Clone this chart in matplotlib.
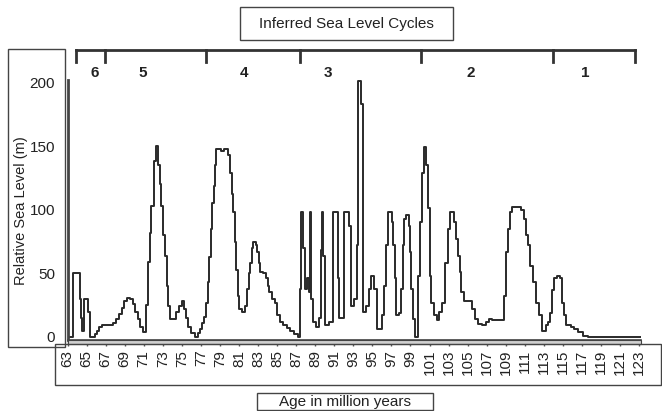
import matplotlib
matplotlib.use('Agg')
import matplotlib.pyplot as plt
import matplotlib.transforms as mtransforms
from matplotlib.patches import Rectangle
from matplotlib.lines import Line2D

########################### data ################################################
age = [63.0, 63.55, 64.3, 64.45, 64.55, 64.75, 65.15, 65.35, 65.9, 66.1, 66.35, 66.6,
       67.8, 68.1, 68.4, 68.7, 68.95, 69.2, 69.6, 69.85, 70.1, 70.4, 70.65, 70.9,
       71.2, 71.4, 71.65, 71.8, 72.1, 72.3, 72.5, 72.7, 72.85, 73.05, 73.2, 73.4,
       73.55, 73.75, 74.4, 74.7, 75.0, 75.2, 75.4, 75.7, 76.0, 76.4, 76.65, 76.9,
       77.1, 77.3, 77.5, 77.7, 77.85, 78.05, 78.2, 78.35, 78.5, 78.6, 79.1, 79.4,
       79.85, 80.05, 80.25, 80.4, 80.55, 80.7, 80.85, 81.05, 81.3, 81.6, 81.8, 82.0,
       82.15, 82.35, 82.5, 82.75, 82.9, 83.1, 83.25, 83.5, 83.8, 84.0, 84.2, 84.5,
       84.8, 85.0, 85.3, 85.6, 86.0, 86.4, 86.8, 87.2, 87.45, 87.55, 87.75, 87.9,
       88.1, 88.35, 88.45, 88.6, 88.8, 89.1, 89.4, 89.6, 89.7, 89.85, 90.05, 90.4,
       90.85, 91.4, 91.55, 92.05, 92.6, 92.8, 93.05, 93.35, 93.5, 93.85, 94.05, 94.3,
       94.6, 94.85, 95.2, 95.45, 96.0, 96.2, 96.4, 96.6, 97.05, 97.2, 97.35, 97.5,
       97.8, 98.0, 98.2, 98.35, 98.5, 98.8, 98.95, 99.1, 99.3, 99.45, 99.8, 100.0,
       100.2, 100.4, 100.65, 100.8, 101.0, 101.2, 101.45, 101.75, 102.0, 102.3, 102.6, 102.9,
       103.2, 103.6, 103.8, 103.95, 104.15, 104.35, 104.6, 105.5, 105.8, 106.1, 106.5, 106.9,
       107.2, 107.6, 108.8, 109.0, 109.2, 109.4, 109.7, 110.6, 110.9, 111.1, 111.3, 111.6,
       111.9, 112.2, 112.5, 112.8, 113.2, 113.4, 113.7, 113.9, 114.1, 114.4, 114.7, 114.9,
       115.1, 115.3, 115.9, 116.2, 116.6, 117.1, 117.6, 123.2]
sea_level = [0, 50, 30, 15, 5, 30, 20, 0, 2, 5, 8, 9,
             11, 14, 18, 23, 28, 31, 30, 26, 20, 14, 8, 4,
             25, 59, 82, 103, 138, 150, 135, 120, 103, 80, 64, 40,
             24, 14, 20, 24, 28, 22, 15, 8, 3, 0, 3, 6,
             11, 16, 27, 43, 63, 85, 105, 119, 135, 148, 146, 148,
             143, 129, 112, 98, 75, 53, 32, 22, 20, 24, 38, 50,
             58, 70, 75, 72, 67, 58, 51, 50, 46, 40, 35, 30,
             27, 17, 12, 9, 7, 5, 2, 0, 38, 98, 70, 38,
             46, 35, 98, 30, 12, 8, 15, 68, 98, 64, 9, 12,
             98, 46, 15, 98, 87, 24, 30, 72, 201, 183, 20, 24,
             38, 48, 38, 6, 17, 40, 72, 98, 90, 72, 46, 17,
             19, 38, 72, 93, 96, 87, 67, 38, 14, 0, 48, 90,
             129, 149, 135, 101, 48, 27, 17, 13, 20, 27, 58, 85,
             98, 90, 77, 64, 51, 35, 28, 22, 14, 10, 9, 12,
             14, 13, 32, 67, 85, 98, 102, 100, 93, 80, 72, 56,
             43, 27, 17, 5, 9, 12, 19, 37, 46, 48, 46, 27,
             17, 9, 8, 6, 4, 1, 0, 0]

x_ticks = list(range(63, 124, 2))
y_ticks = [0, 50, 100, 150, 200]

cycle_bounds = [63.9, 66.9, 77.5, 87.4, 100.1, 114.0, 122.55]
cycle_names = ['6', '5', '4', '3', '2', '1']
cycle_label_x = [65.9, 70.9, 81.5, 90.3, 105.3, 117.3]

########################### style ############################
W, H = 662, 411
line_color = '#2a2a2a'
box_color = '#444444'
plt.rcParams['font.family'] = ['Liberation Sans', 'DejaVu Sans']
plt.rcParams['text.color'] = '#222222'


def fx(px):
    return px / W


def fy(py):
    return 1 - py / H


def box(fig, x0, y0, x1, y1, **kw):
    r = Rectangle((fx(x0), fy(y1)), fx(x1) - fx(x0), fy(y0) - fy(y1),
                  transform=fig.transFigure, fill=kw.pop('fill', False),
                  edgecolor=kw.pop('edgecolor', box_color), lw=kw.pop('lw', 1.0), **kw)
    fig.patches.append(r)


fig = plt.figure(figsize=(W / 100, H / 100), dpi=100)
ax = fig.add_axes([fx(67.5), fy(340), fx(641) - fx(67.5), fy(80) - fy(340)])

ax.step(age, sea_level, where='post', color=line_color, linewidth=1.4)

ax.set_xlim(63, 123.2)
ax.set_ylim(-2.4, 202)
ax.set_xticks(x_ticks)
ax.set_yticks(y_ticks)
ax.tick_params(axis='x', direction='out', length=4, width=1, color='#555555',
               labelsize=11, labelrotation=90, pad=3, labelcolor='#222222')
ax.tick_params(axis='y', length=0, labelsize=11, pad=9, labelcolor='#222222')
for s in ['top', 'right']:
    ax.spines[s].set_visible(False)
ax.spines['left'].set_linewidth(2)
ax.spines['left'].set_color('#444444')
ax.spines['bottom'].set_linewidth(1.2)
ax.spines['bottom'].set_color('#444444')
ax.patch.set_alpha(0)

# grey band under the x axis and boxes round the labels
box(fig, 67.5, 340, 641, 344, fill=True, facecolor='#d0d0d0', lw=0.8)
box(fig, 55, 344, 661, 385)
box(fig, 8, 49, 65, 347)
box(fig, 240, 7, 453, 40)
box(fig, 257, 393, 433, 410)

fig.text(fx(346.5), fy(24), 'Inferred Sea Level Cycles', ha='center', va='center', fontsize=11)
fig.text(fx(345), fy(402), 'Age in million years', ha='center', va='center', fontsize=11)
fig.text(fx(21.5), fy(211), 'Relative Sea Level (m)', ha='center', va='center',
         rotation=90, fontsize=10.5)

# inferred cycle bracket above the plot
trans = mtransforms.blended_transform_factory(ax.transData, fig.transFigure)
fig.lines.append(Line2D([cycle_bounds[0], cycle_bounds[-1]], [fy(50), fy(50)],
                        transform=trans, color='#333333', lw=2))
for b in cycle_bounds:
    fig.lines.append(Line2D([b, b], [fy(50), fy(62)], transform=trans,
                            color='#333333', lw=2))
for xl, name in zip(cycle_label_x, cycle_names):
    fig.text(xl, fy(73), name, transform=trans, ha='center', va='center',
             fontsize=11, fontweight='bold')

fig.savefig('out.png', dpi=100)
